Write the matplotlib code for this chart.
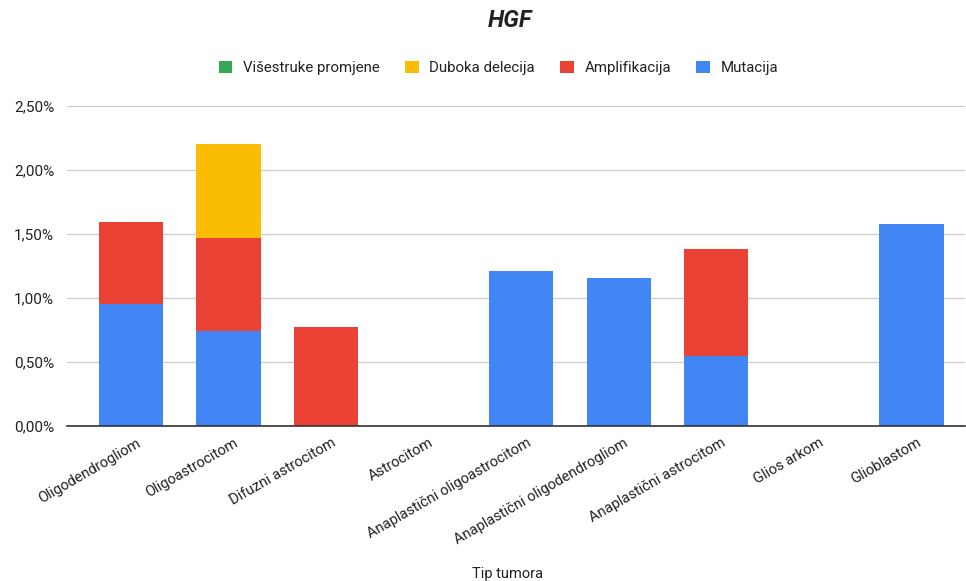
import matplotlib
matplotlib.use("Agg")
import numpy as np
from matplotlib import pyplot as plt
from matplotlib.ticker import FuncFormatter
from matplotlib.transforms import ScaledTranslation

plt.rcParams['font.family'] = ['Roboto', 'DejaVu Sans']

# data (percent)
categories = [
    "Oligodendrogliom",
    "Oligoastrocitom",
    "Difuzni astrocitom",
    "Astrocitom",
    "Anaplastični oligoastrocitom",
    "Anaplastični oligodendrogliom",
    "Anaplastični astrocitom",
    "Glios arkom",
    "Glioblastom",
]
mutacija = [0.95, 0.74, 0.0, 0.0, 1.21, 1.16, 0.55, 0.0, 1.58]
amplifikacija = [0.64, 0.73, 0.77, 0.0, 0.0, 0.0, 0.83, 0.0, 0.0]
duboka_delecija = [0.0, 0.73, 0.0, 0.0, 0.0, 0.0, 0.0, 0.0, 0.0]
visestruke = [0.0, 0.0, 0.0, 0.0, 0.0, 0.0, 0.0, 0.0, 0.0]

series_names = ["Višestruke promjene", "Duboka delecija", "Amplifikacija", "Mutacija"]
colors = {"Mutacija": "#4285F4", "Amplifikacija": "#EA4335",
          "Duboka delecija": "#FBBC04", "Višestruke promjene": "#34A853"}

fig = plt.figure(figsize=(9.66, 5.81), dpi=100)
ax = fig.add_axes([0.069, 0.2668, 0.93, 0.5508])

x = np.arange(len(categories))
w = 0.66
bottom = np.zeros(len(categories))
handles = {}
for name, vals in [("Mutacija", mutacija), ("Amplifikacija", amplifikacija),
                   ("Duboka delecija", duboka_delecija), ("Višestruke promjene", visestruke)]:
    vals = np.array(vals)
    handles[name] = ax.bar(x, vals, w, bottom=bottom, color=colors[name], label=name, zorder=3)
    bottom += vals

ax.set_xlim(-0.66, 8.55)
ax.set_ylim(0, 2.5)
ax.set_yticks([0, 0.5, 1.0, 1.5, 2.0, 2.5])
ax.yaxis.set_major_formatter(FuncFormatter(lambda v, p: f"{v:.2f}%".replace(".", ",")))
ax.grid(axis="y", color="#cccccc", linewidth=0.9, zorder=0)
for s in ["top", "right", "left"]:
    ax.spines[s].set_visible(False)
ax.spines["bottom"].set_color("#333333")
ax.spines["bottom"].set_linewidth(1.2)
ax.spines["bottom"].set_zorder(4)
ax.tick_params(axis="both", length=0, labelcolor="#222222")
ax.tick_params(axis="y", pad=9, labelsize=11)

ax.set_xticks(x)
ax.set_xticklabels(categories, rotation=30, ha="right", rotation_mode="anchor", fontsize=10.5)
ax.tick_params(axis="x", pad=7)
# nudge labels a little to the right, like the reference
offset = ScaledTranslation(5 / 100, 0, fig.dpi_scale_trans)
for lbl in ax.get_xticklabels():
    lbl.set_transform(lbl.get_transform() + offset)

ax.set_xlabel("Tip tumora", fontsize=10.5, color="#222222")
ax.xaxis.set_label_coords(0.491, -0.44)

fig.suptitle("HGF", x=0.528, y=0.985, fontsize=17, fontweight="bold", style="italic", color="#222222")

leg = fig.legend([handles[n] for n in series_names], series_names, loc="center",
                 bbox_to_anchor=(0.516, 0.883), ncol=4, frameon=False, fontsize=10.8,
                 handlelength=0.9, handleheight=0.9, columnspacing=1.7, handletextpad=0.7)
for t in leg.get_texts():
    t.set_color("#222222")

fig.savefig("out.png", dpi=100)
